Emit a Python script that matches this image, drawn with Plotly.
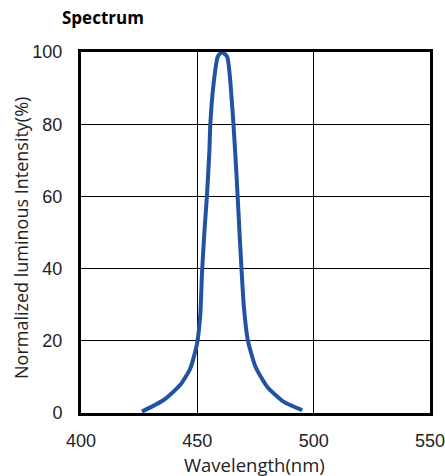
import plotly.graph_objects as go

wavelength = [426.2, 435.5, 442.7, 447.0, 449.9, 451.3, 452.0, 453.0, 454.2, 455.2, 455.6, 457.0, 458.8, 460.6,
              462.8, 465.0, 466.8, 468.3, 470.0, 471.7, 475.0, 480.0, 487.2, 495.1]
intensity = [0.4, 3.6, 7.8, 12.4, 19.3, 27.6, 38.7, 49.8, 60.9, 72.9, 80.2, 91.3, 98.7, 100.0,
             98.7, 84.8, 66.4, 47.9, 29.4, 20.2, 12.8, 7.3, 3.1, 0.8]
x_ticks = [400, 450, 500, 550]
y_ticks = [0, 20, 40, 60, 80, 100]

L, R, T, B = 81, 15, 52, 63
W, H = 445, 476
pw, ph = W - L - R, H - T - B

fig = go.Figure()
fig.add_trace(go.Scatter(x=wavelength, y=intensity, mode="lines",
                         line=dict(color="#2152A3", width=4, shape="spline", smoothing=0.6),
                         showlegend=False, hoverinfo="skip"))

fig.update_layout(
    width=W, height=H,
    margin=dict(l=L, r=R, t=T, b=B, autoexpand=False),
    paper_bgcolor="white", plot_bgcolor="white",
    font=dict(family="Liberation Sans, Arial, sans-serif", color="#222"),
    xaxis=dict(range=[400, 550], tickvals=x_ticks, showgrid=True, gridcolor="black", gridwidth=1,
               showline=True, linecolor="black", linewidth=3, mirror=True, automargin=False,
               ticks="", ticklabelstandoff=9, zeroline=False, ticklabeloverflow="allow",
               tickfont=dict(size=18, color="#222")),
    yaxis=dict(range=[0, 100], tickvals=y_ticks, showgrid=True, gridcolor="black", gridwidth=1,
               showline=True, linecolor="black", linewidth=3, mirror=True, automargin=False,
               ticks="", ticklabelstandoff=12, zeroline=False, ticklabeloverflow="allow",
               tickfont=dict(size=18, color="#222")),
    annotations=[
        dict(text="<b>Spectrum</b>", x=(103 - L) / pw, y=1 + (T - 17) / ph, xref="paper", yref="paper",
             xanchor="center", yanchor="middle", showarrow=False,
             font=dict(family="Open Sans, sans-serif", size=17, color="black")),
        dict(text="Wavelength(nm)", x=(254 - L) / pw, y=-(464 - T - ph) / ph, xref="paper", yref="paper",
             xanchor="center", yanchor="middle", showarrow=False,
             font=dict(family="Open Sans, sans-serif", size=18.5, color="#222")),
        dict(text="Normalized luminous Intensity(%)", x=-(L - 21) / pw, y=(H - B - 238) / ph,
             xref="paper", yref="paper", xanchor="center", yanchor="middle", showarrow=False, textangle=-90,
             font=dict(family="Open Sans, sans-serif", size=18, color="#222")),
    ],
)

fig.write_html("out.html", config={"displayModeBar": False},
               post_script="document.body.style.margin='0';document.body.style.overflow='hidden';")
